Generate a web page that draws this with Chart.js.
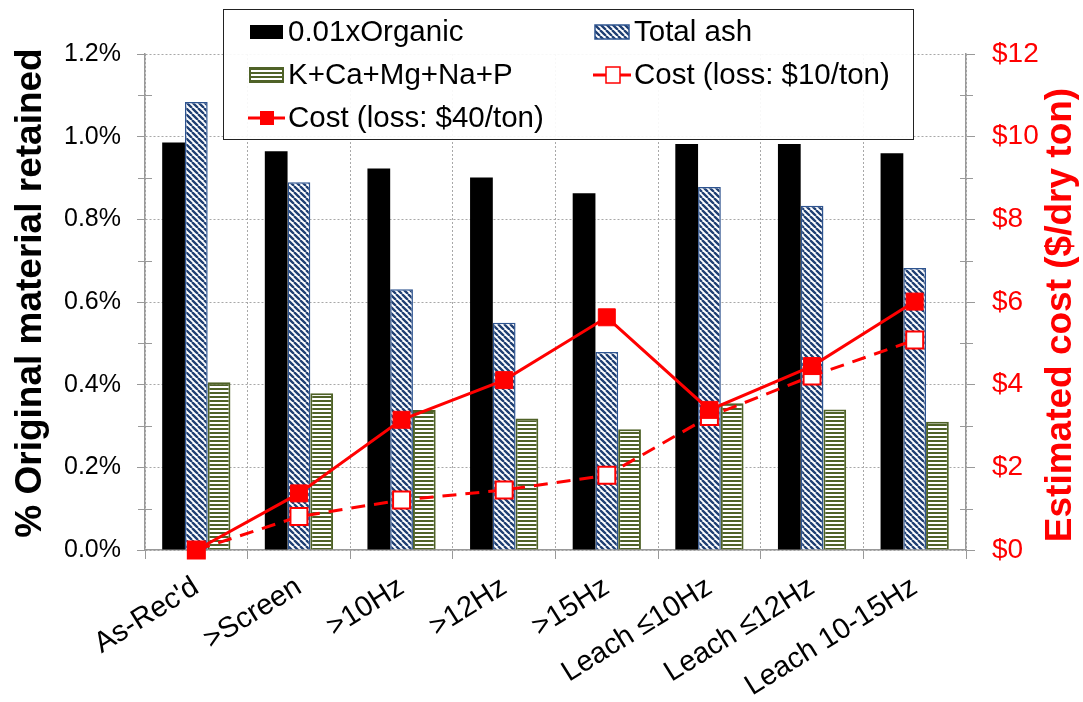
<!DOCTYPE html>
<html><head><meta charset="utf-8">
<script src="https://cdn.jsdelivr.net/npm/chart.js@4"></script>
<style>html,body{margin:0;padding:0;background:#fff;}#wrap{width:1083px;height:702px;position:relative;}</style>
</head><body><div id="wrap"><canvas id="c" width="1083" height="702"></canvas></div>
<script>
// ---- data ----
const categories = ["As-Rec'd", ">Screen", ">10Hz", ">12Hz", ">15Hz", "Leach \u226410Hz", "Leach \u226412Hz", "Leach 10-15Hz"];
const organic  = [0.986, 0.965, 0.923, 0.901, 0.863, 0.982, 0.982, 0.960];   // % (0.01x Organic)
const totalAsh = [1.084, 0.890, 0.631, 0.550, 0.479, 0.878, 0.833, 0.682];   // %
const minerals = [0.406, 0.379, 0.339, 0.318, 0.292, 0.355, 0.340, 0.310];   // %
const cost10   = [0, 0.81, 1.21, 1.45, 1.81, 3.23, 4.21, 5.08];               // $/dry ton
const cost40   = [0, 1.37, 3.15, 4.11, 5.63, 3.39, 4.45, 6.01];               // $/dry ton
const seriesNames = ["0.01xOrganic", "Total ash", "K+Ca+Mg+Na+P", "Cost (loss: $10/ton)", "Cost (loss: $40/ton)"];
const leftTitle = "% Original material retained";
const rightTitle = "Estimated cost ($/dry ton)";

const FONT = '"Liberation Sans", Arial, Helvetica, sans-serif';
const canvas = document.getElementById('c');
const mainCtx = canvas.getContext('2d');
const NAVY = '#1F3F73', NAVY_B = '#2E5490', OLIVE = '#4F6228', RED = '#FF0000';

function diagPattern(color) {
  const s = 6, c = document.createElement('canvas'); c.width = s; c.height = s;
  const g = c.getContext('2d');
  g.fillStyle = '#fff'; g.fillRect(0, 0, s, s);
  g.strokeStyle = color; g.lineWidth = 2.3; g.beginPath();
  for (let k = -1; k <= 1; k++) { g.moveTo(k * s, 0); g.lineTo(k * s + s, s); }
  g.stroke();
  return mainCtx.createPattern(c, 'repeat');
}
function horizPattern(color) {
  const c = document.createElement('canvas'); c.width = 4; c.height = 4;
  const g = c.getContext('2d');
  g.fillStyle = '#fff'; g.fillRect(0, 0, 4, 4);
  g.fillStyle = color; g.fillRect(0, 0, 4, 2);
  return mainCtx.createPattern(c, 'repeat');
}
const ashPat = diagPattern(NAVY);
const minPat = horizPattern(OLIVE);

const decor = {
  id: 'decor',
  afterDraw(chart) {
    const ctx = chart.ctx, y = chart.scales.y, y2 = chart.scales.y2;
    ctx.save();
    // minor ticks
    ctx.strokeStyle = '#9a9a9a'; ctx.lineWidth = 1;
    for (let v = 0.1; v < 1.2; v += 0.2) {
      const py = Math.round(y.getPixelForValue(v)) + 0.5;
      ctx.beginPath(); ctx.moveTo(y.right - 7, py); ctx.lineTo(y.right + 7, py); ctx.stroke();
    }
    for (let v = 1; v < 12; v += 2) {
      const py = Math.round(y2.getPixelForValue(v)) + 0.5;
      ctx.beginPath(); ctx.moveTo(y2.left - 6, py); ctx.lineTo(y2.left + 7, py); ctx.stroke();
    }
    // axis titles
    ctx.font = 'bold 37px ' + FONT; ctx.textAlign = 'center'; ctx.textBaseline = 'middle';
    ctx.save(); ctx.translate(31, 293); ctx.rotate(-Math.PI / 2); ctx.fillStyle = '#000'; ctx.fillText(leftTitle, 0, 0); ctx.restore();
    ctx.save(); ctx.translate(1061, 315); ctx.rotate(-Math.PI / 2); ctx.fillStyle = RED; ctx.fillText(rightTitle, 0, 0); ctx.restore();
    // legend
    const bx = 223.5, by = 9.5, bw = 690, bh = 130;
    ctx.fillStyle = 'rgba(255,255,255,0.92)'; ctx.fillRect(bx, by, bw, bh);
    ctx.strokeStyle = '#222'; ctx.lineWidth = 1; ctx.strokeRect(bx, by, bw, bh);
    ctx.font = '29.5px ' + FONT; ctx.textAlign = 'left'; ctx.textBaseline = 'middle'; ctx.fillStyle = '#000';
    const r1 = 32, r2 = 75, r3 = 118, c1 = 250, c2 = 595;
    // organic
    ctx.fillStyle = '#000'; ctx.fillRect(c1, r1 - 7, 33, 14);
    ctx.fillText(seriesNames[0], c1 + 38, r1 + 1);
    // ash
    ctx.fillStyle = ashPat; ctx.fillRect(c2, r1 - 7, 34, 14);
    ctx.strokeStyle = NAVY_B; ctx.lineWidth = 1.5; ctx.strokeRect(c2, r1 - 7, 34, 14);
    ctx.fillStyle = '#000'; ctx.fillText(seriesNames[1], c2 + 39, r1 + 1);
    // minerals
    ctx.fillStyle = minPat; ctx.fillRect(c1, r2 - 7, 33, 14);
    ctx.strokeStyle = OLIVE; ctx.lineWidth = 2; ctx.strokeRect(c1, r2 - 7, 33, 14);
    ctx.fillStyle = '#000'; ctx.fillText(seriesNames[2], c1 + 38, r2 + 1);
    // cost10
    ctx.strokeStyle = RED; ctx.lineWidth = 3;
    ctx.beginPath(); ctx.moveTo(c2 - 2, r2); ctx.lineTo(c2 + 11, r2); ctx.moveTo(c2 + 25, r2); ctx.lineTo(c2 + 36, r2); ctx.stroke();
    ctx.fillStyle = '#fff'; ctx.fillRect(c2 + 11, r2 - 8, 14, 16);
    ctx.lineWidth = 1.5; ctx.strokeRect(c2 + 11, r2 - 8, 14, 16);
    ctx.fillStyle = '#000'; ctx.fillText(seriesNames[3], c2 + 39, r2 + 1);
    // cost40
    ctx.strokeStyle = RED; ctx.lineWidth = 3;
    ctx.beginPath(); ctx.moveTo(c1 - 2, r3); ctx.lineTo(c1 + 35, r3); ctx.stroke();
    ctx.fillStyle = RED; ctx.fillRect(c1 + 10, r3 - 7, 14, 14);
    ctx.fillStyle = '#000'; ctx.fillText(seriesNames[4], c1 + 38, r3 + 1);
    ctx.restore();
  }
};

new Chart(canvas, {
  type: 'bar',
  data: {
    labels: categories,
    datasets: [
      { label: seriesNames[0], data: organic, backgroundColor: '#000', borderColor: '#333', borderWidth: 0, yAxisID: 'y', order: 3 },
      { label: seriesNames[1], data: totalAsh, backgroundColor: ashPat, borderColor: NAVY_B, borderWidth: 1.5, yAxisID: 'y', order: 3 },
      { label: seriesNames[2], data: minerals, backgroundColor: minPat, borderColor: OLIVE, borderWidth: 2, yAxisID: 'y', order: 3 },
      { type: 'line', label: seriesNames[3], data: cost10, yAxisID: 'y2', order: 1, clip: false,
        borderColor: RED, borderWidth: 3, borderDash: [14, 9], pointStyle: 'rect', pointRadius: 12, pointHoverRadius: 12,
        pointBackgroundColor: '#fff', pointBorderColor: RED, pointBorderWidth: 2, tension: 0 },
      { type: 'line', label: seriesNames[4], data: cost40, yAxisID: 'y2', order: 0, clip: false,
        borderColor: RED, borderWidth: 3, pointStyle: 'rect', pointRadius: 12, pointHoverRadius: 12,
        pointBackgroundColor: RED, pointBorderColor: RED, pointBorderWidth: 1, tension: 0 }
    ]
  },
  options: {
    responsive: false, animation: false, devicePixelRatio: 1,
    layout: { padding: { top: 54, left: 0, right: 0, bottom: 0 } },
    plugins: { legend: { display: false }, tooltip: { enabled: false }, title: { display: false } },
    datasets: { bar: { categoryPercentage: 0.665, barPercentage: 1.0 } },
    scales: {
      x: {
        offset: true,
        grid: { offset: true, color: '#a8a8a8', lineWidth: 1, tickLength: 9, tickColor: '#999', drawOnChartArea: true },
        border: { display: true, color: '#999', width: 1.5, dash: [2, 2] },
        ticks: { color: '#000', font: { family: FONT, size: 29 }, minRotation: 32, maxRotation: 32, padding: 11, autoSkip: false },
        afterFit(s) { s.height = 152; }
      },
      y: {
        position: 'left', min: 0, max: 1.2,
        ticks: { stepSize: 0.2, color: '#000', font: { family: FONT, size: 25 }, padding: 16,
                 callback: v => v.toFixed(1) + '%' },
        grid: { color: '#a8a8a8', lineWidth: 1, tickLength: 8, tickColor: '#999' },
        border: { display: true, color: '#999', width: 1.5, dash: [2, 2] },
        afterFit(s) { s.width = 145; }
      },
      y2: {
        position: 'right', min: 0, max: 12,
        ticks: { stepSize: 2, color: RED, font: { family: FONT, size: 28 }, padding: 17,
                 callback: v => '$' + v },
        grid: { drawOnChartArea: false, tickLength: 9, tickColor: '#999' },
        border: { display: true, color: '#999', width: 1.5 },
        afterFit(s) { s.width = 117; }
      }
    }
  },
  plugins: [decor]
});
</script>
</body></html>
